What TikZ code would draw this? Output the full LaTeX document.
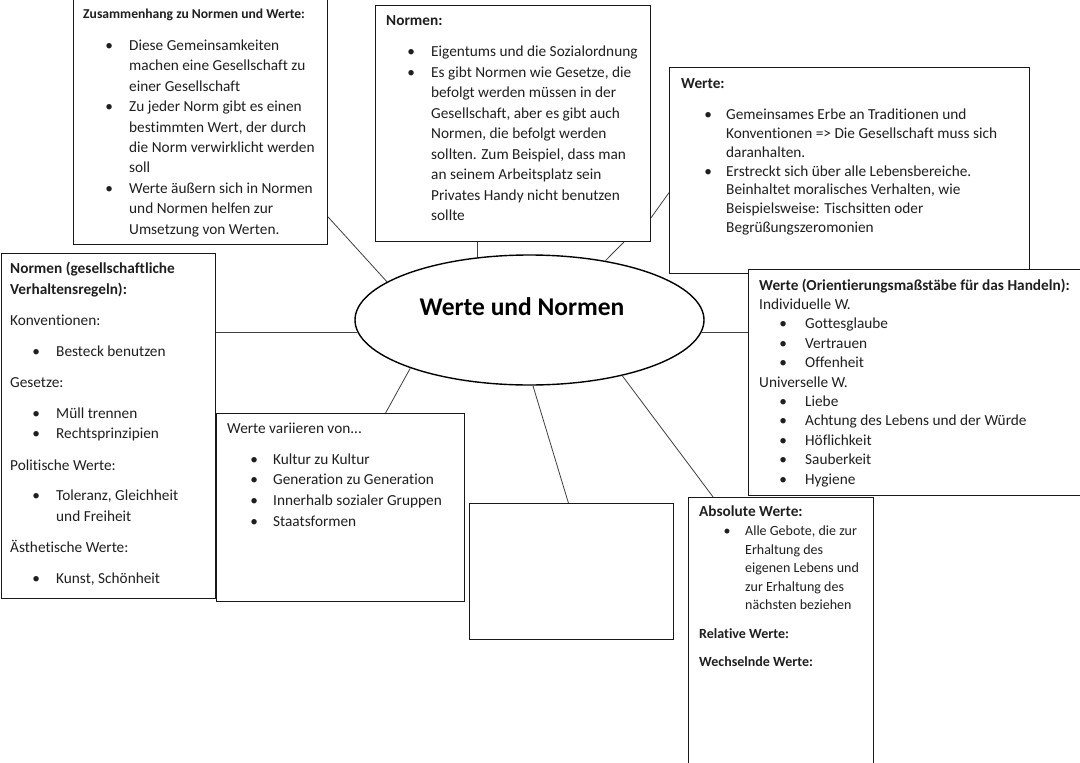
\documentclass[tikz,border=0pt]{standalone}
\usepackage{fontspec}
\setmainfont{Carlito}[Ligatures=NoCommon]
\usetikzlibrary{shapes.geometric,calc}
\newcommand\bu[2]{\hspace*{#1pt}\makebox[0pt]{\textbullet}\hspace*{\dimexpr#2pt-#1pt\relax}}
\newcommand\ct[1]{\hspace*{#1pt}}
\newcommand\fs[2]{\fontsize{#1}{#2}\selectfont}
\begin{document}
\begin{tikzpicture}[x=1pt,y=-1pt,
  box/.style={draw=black!90,line width=1pt,fill=white,anchor=north west,inner sep=0pt},
  txt/.style={anchor=base west,inner sep=0pt,text=black!88},
  link/.style={draw=black!75,line width=0.8pt}]
\useasboundingbox (0,0) rectangle (1080,763);
\fill[white] (0,0) rectangle (1080,763);
% boxes
\node[box,minimum width=254pt,minimum height=248pt] (zus) at (73,-4) {};
\node[box,minimum width=275pt,minimum height=236pt] (nor) at (375,5) {};
\node[box,minimum width=360pt,minimum height=206pt] (wer) at (669,67) {};
\node[box,minimum width=340pt,minimum height=226pt] (ori) at (748,269) {};
\node[box,minimum width=214pt,minimum height=345pt] (lft) at (1,253) {};
\node[box,minimum width=248pt,minimum height=188pt] (var) at (216,413) {};
\node[box,minimum width=204pt,minimum height=136pt] (emp) at (469,503) {};
\node[box,minimum width=185pt,minimum height=275pt] (abs) at (688,497) {};
% central ellipse
\node[ellipse,draw=black,line width=1.4pt,minimum width=349pt,minimum height=130pt,inner sep=0pt] (ell) at (529.5,320) {};
\node[anchor=base,inner sep=0pt,font=\bfseries\fs{25.5}{30}] (title) at (522,315) {Werte und Normen};
% connectors
\draw[link] ($(zus.south east)!0.113!(zus.north east)$) -- (ell.165);
\draw[link] (ell.130.8) -- (ell.130.8 |- nor.south);
\draw[link] ($(nor.south west)!0.902!(nor.south east)$) -- (ell.38);
\draw[link] ($(nor.south east)!0.102!(nor.north east)$) -- ($(wer.south west)!0.393!(wer.north west)$);
\draw[link] (ell.356) -- (ell.356 -| ori.west);
\draw[link] (ell.184) -- (ell.184 -| lft.east);
\draw[link] (ell.202.4) -- ($(var.north west)!0.681!(var.north east)$);
\draw[link] (ell.273) -- ($(emp.north west)!0.485!(emp.north east)$);
\draw[link] (ell.329) -- ($(abs.north west)!0.135!(abs.north east)$);
% texts
\node[txt] (zusT) at (83,18.5) {\parbox[t]{250pt}{\fs{15.3}{20.4}%
{\bfseries\fs{13.6}{16}Zusammenhang zu Normen und Werte:}\\[11.6pt]
\bu{26}{46}Diese Gemeinsamkeiten\\
\ct{46}machen eine Gesellschaft zu\\
\ct{46}einer Gesellschaft\\
\bu{26}{46}Zu jeder Norm gibt es einen\\
\ct{46}bestimmten Wert, der durch\\
\ct{46}die Norm verwirklicht werden\\
\ct{46}soll\\
\bu{26}{46}Werte äußern sich in Normen\\
\ct{46}und Normen helfen zur\\
\ct{46}Umsetzung von Werten.}};
\node[txt] (norT) at (386,25.5) {\parbox[t]{270pt}{\fs{15.3}{20.5}%
{\bfseries Normen:}\\[10.5pt]
\bu{25}{45}Eigentums und die Sozialordnung\\
\bu{25}{45}Es gibt Normen wie Gesetze, die\\
\ct{45}befolgt werden müssen in der\\
\ct{45}Gesellschaft, aber es gibt auch\\
\ct{45}Normen, die befolgt werden\\
\ct{45}sollten. Zum Beispiel, dass man\\
\ct{45}an seinem Arbeitsplatz sein\\
\ct{45}Privates Handy nicht benutzen\\
\ct{45}sollte}};
\node[txt] (werT) at (681,88.5) {\parbox[t]{350pt}{\fs{15.3}{18.83}%
{\bfseries Werte:}\\[12.2pt]
\bu{27}{45}Gemeinsames Erbe an Traditionen und\\
\ct{45}Konventionen => Die Gesellschaft muss sich\\
\ct{45}daranhalten.\\
\bu{27}{45}Erstreckt sich über alle Lebensbereiche.\\
\ct{45}Beinhaltet moralisches Verhalten, wie\\
\ct{45}Beispielsweise: Tischsitten oder\\
\ct{45}Begrüßungszeromonien}};
\node[txt] (oriT) at (759,290) {\parbox[t]{330pt}{\fs{15.3}{19.4}%
{\bfseries Werte (Orientierungsmaßstäbe für das Handeln):}\\
Individuelle W.\\
\bu{24}{46}Gottesglaube\\
\bu{24}{46}Vertrauen\\
\bu{24}{46}Offenheit\\
Universelle W.\\
\bu{24}{46}Liebe\\
\bu{24}{46}Achtung des Lebens und der Würde\\
\bu{24}{46}Höflichkeit\\
\bu{24}{46}Sauberkeit\\
\bu{24}{46}Hygiene}};
\node[txt] (lftT) at (10,273.5) {\parbox[t]{210pt}{\fs{15.3}{20.6}%
{\bfseries Normen (gesellschaftliche\\
Verhaltensregeln):}\\[11pt]
Konventionen:\\[10pt]
\bu{26}{46}Besteck benutzen\\[10.5pt]
Gesetze:\\[10pt]
\bu{26}{46}Müll trennen\\
\bu{26}{46}Rechtsprinzipien\\[11pt]
Politische Werte:\\[10pt]
\bu{26}{46}Toleranz, Gleichheit\\
\ct{46}und Freiheit\\[10.5pt]
Ästhetische Werte:\\[10.5pt]
\bu{26}{46}Kunst, Schönheit}};
\node[txt] (varT) at (227,433) {\parbox[t]{240pt}{\fs{15.3}{20.7}%
Werte variieren von...\\[10.3pt]
\bu{27}{46}Kultur zu Kultur\\
\bu{27}{46}Generation zu Generation\\
\bu{27}{46}Innerhalb sozialer Gruppen\\
\bu{27}{46}Staatsformen}};
\node[txt] (absT) at (699,516.5) {\parbox[t]{180pt}{\fs{14}{18.5}%
{\bfseries\fs{15.3}{18.5}Absolute Werte:}\\[0.5pt]
\bu{28}{46}Alle Gebote, die zur\\
\ct{46}Erhaltung des\\
\ct{46}eigenen Lebens und\\
\ct{46}zur Erhaltung des\\
\ct{46}nächsten beziehen\\[10.5pt]
{\bfseries Relative Werte:}\\[9.5pt]
{\bfseries Wechselnde Werte:}}};
\end{tikzpicture}
\end{document}
